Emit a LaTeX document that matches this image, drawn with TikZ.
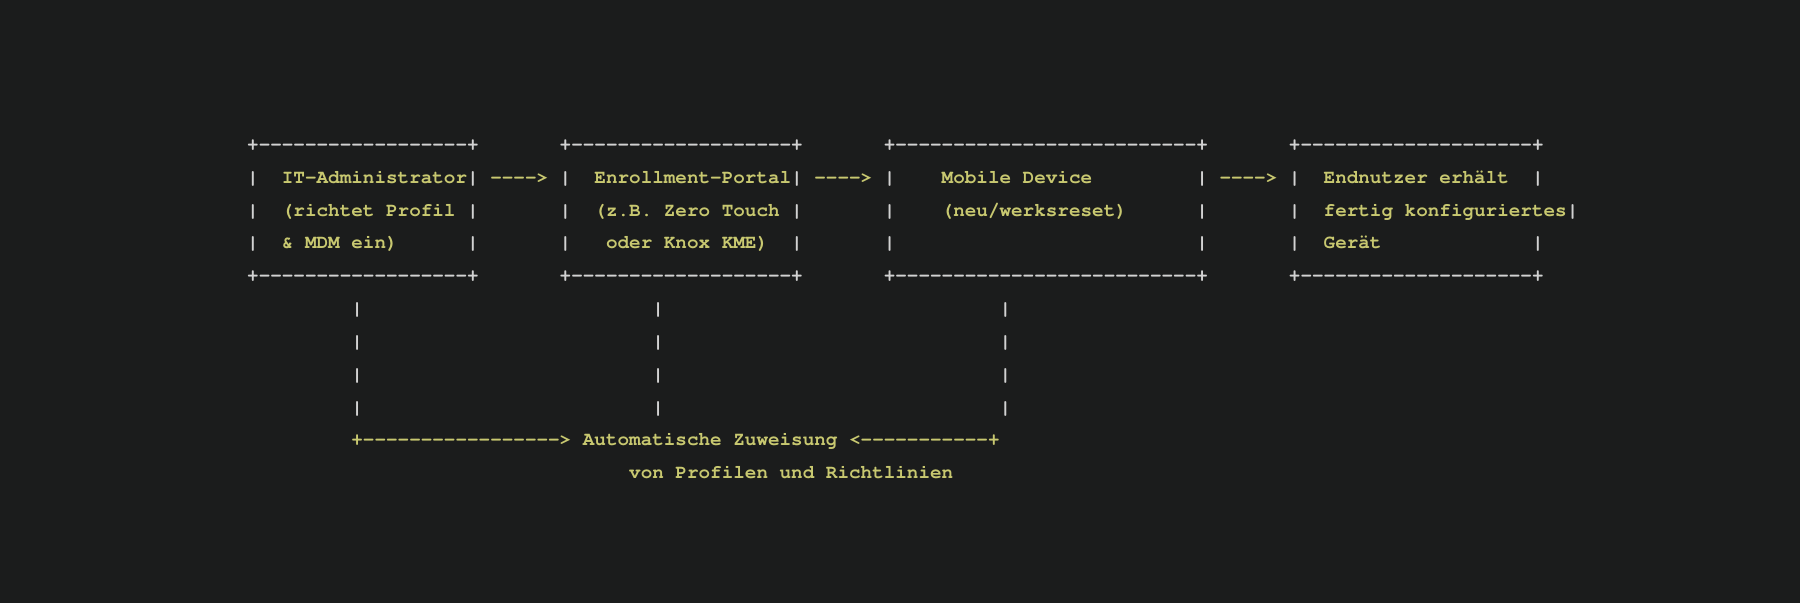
\documentclass[tikz,border=0pt]{standalone}
\usepackage[T1]{fontenc}
\usepackage{courier}
\definecolor{bgdark}{RGB}{27,28,28}
\definecolor{txtyellow}{RGB}{200,200,112}
\colorlet{framegray}{gray!35!white}
\newcommand{\asciifont}{\ttfamily\fontsize{9.646pt}{16.42pt}\selectfont\frenchspacing}
% one hyphen per step, so that no -- ligature is formed
\newcommand{\dashrun}[1]{\foreach \i in {1,...,#1}{-}}

\tikzset{
  cell/.style={inner sep=0, outer sep=0, anchor=base west},
  framechar/.style={cell, text=framegray, font=\asciifont\bfseries},
  boxtext/.style={cell, text=txtyellow, font=\asciifont\bfseries},
}

\begin{document}
\begin{tikzpicture}[x=5.7875pt,y=-16.42pt]
\fill[bgdark] (-123.6pt,75.2pt) rectangle (776.4pt,-226.3pt);
% box edges, top and bottom
\node[framechar] (admtop) at (0,0) {+\dashrun{18}+};
\node[framechar] (portop) at (27,0) {+\dashrun{19}+};
\node[framechar] (devtop) at (55,0) {+\dashrun{26}+};
\node[framechar] (usrtop) at (90,0) {+\dashrun{20}+};
\node[framechar] (admbot) at (0,4) {+\dashrun{18}+};
\node[framechar] (porbot) at (27,4) {+\dashrun{19}+};
\node[framechar] (devbot) at (55,4) {+\dashrun{26}+};
\node[framechar] (usrbot) at (90,4) {+\dashrun{20}+};
% box walls
\path (0,1) node[framechar] (admL1) {|} (19,1) node[framechar] (admR1) {|}
      (27,1) node[framechar] (porL1) {|} (47,1) node[framechar] (porR1) {|}
      (55,1) node[framechar] (devL1) {|} (82,1) node[framechar] (devR1) {|}
      (90,1) node[framechar] (usrL1) {|} (111,1) node[framechar] (usrR1) {|};
\path (0,2) node[framechar] (admL2) {|} (19,2) node[framechar] (admR2) {|}
      (27,2) node[framechar] (porL2) {|} (47,2) node[framechar] (porR2) {|}
      (55,2) node[framechar] (devL2) {|} (82,2) node[framechar] (devR2) {|}
      (90,2) node[framechar] (usrL2) {|} (114,2) node[framechar] (usrR2) {|};
\path (0,3) node[framechar] (admL3) {|} (19,3) node[framechar] (admR3) {|}
      (27,3) node[framechar] (porL3) {|} (47,3) node[framechar] (porR3) {|}
      (55,3) node[framechar] (devL3) {|} (82,3) node[framechar] (devR3) {|}
      (90,3) node[framechar] (usrL3) {|} (111,3) node[framechar] (usrR3) {|};
% box texts
\node[boxtext] (adm1) at (3,1) {IT-Administrator};
\node[boxtext] (adm2) at (3,2) {(richtet Profil};
\node[boxtext] (adm3) at (3,3) {\& MDM ein)};
\node[boxtext] (por1) at (30,1) {Enrollment-Portal};
\node[boxtext] (por2) at (30,2) {(z.B. Zero Touch};
\node[boxtext] (por3) at (31,3) {oder Knox KME)};
\node[boxtext] (dev1) at (60,1) {Mobile Device};
\node[boxtext] (dev2) at (60,2) {(neu/werksreset)};
\node[boxtext] (usr1) at (93,1) {Endnutzer erh\"alt};
\node[boxtext] (usr2) at (93,2) {fertig konfiguriertes};
\node[boxtext] (usr3) at (93,3) {Ger\"at};
% arrows between the boxes
\node[boxtext] (arr1) at (21,1) {\dashrun{4}>};
\node[boxtext] (arr2) at (49,1) {\dashrun{4}>};
\node[boxtext] (arr3) at (84,1) {\dashrun{4}>};
% lines down to the assignment
\path (9,5) node[framechar] (admd5) {|} (35,5) node[framechar] (pord5) {|} (65,5) node[framechar] (devd5) {|};
\path (9,6) node[framechar] (admd6) {|} (35,6) node[framechar] (pord6) {|} (65,6) node[framechar] (devd6) {|};
\path (9,7) node[framechar] (admd7) {|} (35,7) node[framechar] (pord7) {|} (65,7) node[framechar] (devd7) {|};
\path (9,8) node[framechar] (admd8) {|} (35,8) node[framechar] (pord8) {|} (65,8) node[framechar] (devd8) {|};
\node[boxtext] (collL) at (9,9) {+\dashrun{17}>};
\node[boxtext] (assign1) at (29,9) {Automatische Zuweisung};
\node[boxtext] (collR) at (52,9) {<\dashrun{11}+};
\node[boxtext] (assign2) at (33,10) {von Profilen und Richtlinien};
\end{tikzpicture}
\end{document}
